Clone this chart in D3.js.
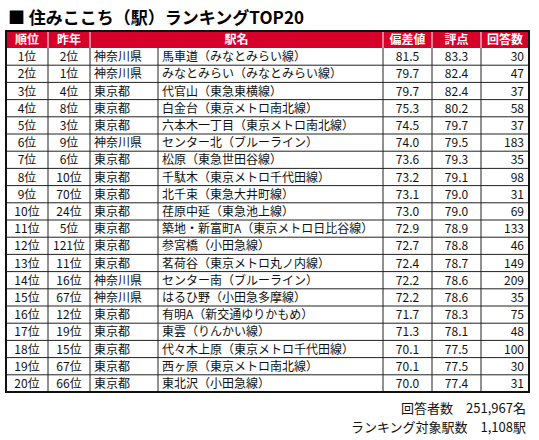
<!DOCTYPE html><html><head><meta charset="utf-8"><script src="https://cdn.jsdelivr.net/npm/d3@7"></script>
<style>body{margin:0;background:#fff}</style></head><body><svg id="c" width="539" height="440"></svg>
<script>
const headers=["順位","昨年","駅名","偏差値","評点","回答数"];
const ranks=["1位","2位","3位","4位","5位","6位","7位","8位","9位","10位","11位","12位","13位","14位","15位","16位","17位","18位","19位","20位"];
const lastYear=["2位","1位","4位","8位","3位","9位","6位","10位","70位","24位","5位","121位","11位","16位","67位","12位","19位","15位","67位","66位"];
const prefs=["神奈川県","神奈川県","東京都","東京都","東京都","神奈川県","東京都","東京都","東京都","東京都","東京都","東京都","東京都","神奈川県","神奈川県","東京都","東京都","東京都","東京都","東京都"];
const stations=["馬車道（みなとみらい線）","みなとみらい（みなとみらい線）","代官山（東急東横線）","白金台（東京メトロ南北線）","六本木一丁目（東京メトロ南北線）","センター北（ブルーライン）","松原（東急世田谷線）","千駄木（東京メトロ千代田線）","北千束（東急大井町線）","荏原中延（東急池上線）","築地・新富町A（東京メトロ日比谷線）","参宮橋（小田急線）","茗荷谷（東京メトロ丸ノ内線）","センター南（ブルーライン）","はるひ野（小田急多摩線）","有明A（新交通ゆりかもめ）","東雲（りんかい線）","代々木上原（東京メトロ千代田線）","西ヶ原（東京メトロ南北線）","東北沢（小田急線）"];
const deviation=[81.5,79.7,79.7,75.3,74.5,74.0,73.6,73.2,73.1,73.0,72.9,72.7,72.4,72.2,72.2,71.7,71.3,70.1,70.1,70.0];
const score=[83.3,82.4,82.4,80.2,79.7,79.5,79.3,79.1,79.0,79.0,78.9,78.8,78.7,78.6,78.6,78.3,78.1,77.5,77.5,77.4];
const responses=[30,47,37,58,37,183,35,98,31,69,133,46,149,209,35,75,48,100,30,31];
const footer=["回答者数　251,967名","ランキング対象駅数　1,108駅"];

const svg=d3.select("#c");
const F="'Noto Sans CJK JP','Noto Sans',sans-serif";
const red="#d6002a";
const colEdges=[6,48,90,158,383,432,481,529];
const x0=6,x1=529,hTop=31,hBot=48,bottom=392;
const y=d3.scaleBand().domain(d3.range(20)).range([hBot,bottom]);
svg.append("text").attr("x",8).attr("y",24).attr("font-family",F).attr("font-weight","bold").attr("font-size",17).text("■ 住みここち（駅）ランキングTOP20");
svg.append("rect").attr("x",x0).attr("y",hTop).attr("width",x1-x0).attr("height",hBot-hTop).attr("fill",red);
// header text: merged pref+station header
const hcols=[[0,1],[1,2],[2,4],[4,5],[5,6],[6,7]];
hcols.forEach((c,i)=>{svg.append("text").attr("x",(colEdges[c[0]]+colEdges[c[1]])/2).attr("y",hBot-4).attr("text-anchor","middle").attr("fill","#fff").attr("font-weight","bold").attr("font-family",F).attr("font-size",12).text(headers[i]);});
hcols.slice(0,5).forEach(c=>svg.append("line").attr("x1",colEdges[c[1]]).attr("x2",colEdges[c[1]]).attr("y1",hTop).attr("y2",hBot).attr("stroke","#fff").attr("stroke-width",1));
// rows
const rows=d3.range(20);
rows.forEach(i=>{
  const yy=y(i)+y.bandwidth()/2+4.5;
  const cells=[[ranks[i],"m"],[lastYear[i],"m"],[prefs[i],"l"],[stations[i],"l"],[deviation[i].toFixed(1),"m"],[score[i].toFixed(1),"m"],[String(responses[i]),"r"]];
  cells.forEach((c,j)=>{
    const a=colEdges[j],b=colEdges[j+1];
    const t=svg.append("text").attr("y",yy).attr("font-family",F).attr("font-size",12).attr("fill","#111").text(c[0]);
    if(c[1]==="m")t.attr("x",(a+b)/2).attr("text-anchor","middle");
    else if(c[1]==="l")t.attr("x",a+4);
    else t.attr("x",b-5).attr("text-anchor","end");
  });
  if(i>0)svg.append("line").attr("x1",x0).attr("x2",x1).attr("y1",y(i)).attr("y2",y(i)).attr("stroke","#222").attr("stroke-width",1);
});
colEdges.slice(1,-1).forEach(e=>svg.append("line").attr("x1",e).attr("x2",e).attr("y1",hBot).attr("y2",bottom).attr("stroke","#222"));
svg.append("rect").attr("x",x0).attr("y",hTop).attr("width",x1-x0).attr("height",bottom-hTop).attr("fill","none").attr("stroke","#111").attr("stroke-width",2);
footer.forEach((t,i)=>svg.append("text").attr("x",526).attr("y",413+i*19).attr("text-anchor","end").attr("font-family",F).attr("font-size",13).attr("fill","#111").text(t));
</script></body></html>
